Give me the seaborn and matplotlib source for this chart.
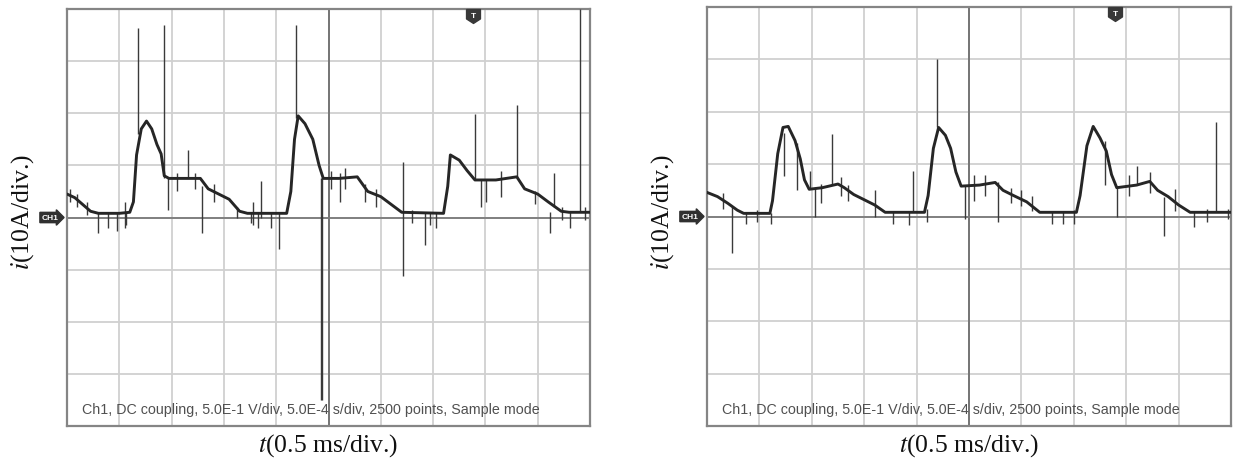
import numpy as np
import pandas as pd
import seaborn as sns
import matplotlib.pyplot as plt
import matplotlib.transforms as mtransforms

# trace envelope, in divisions (x: 0..10, y: -4..4, 0 = CH1 ground)
left_x = [0.0, 0.15, 0.3, 0.45, 0.6, 1.0, 1.2, 1.27, 1.33, 1.42, 1.52, 1.62, 1.72, 1.8, 1.86,
          1.95, 2.3, 2.55, 2.7, 2.9, 3.1, 3.3, 3.45, 4.2, 4.28, 4.35, 4.42, 4.55, 4.7, 4.82,
          4.9, 5.2, 5.55, 5.75, 6.0, 6.2, 6.4, 7.2, 7.28, 7.33, 7.5, 7.65, 7.8, 8.2, 8.6,
          8.75, 9.0, 9.2, 9.45, 9.6, 10.0]
left_y = [0.45, 0.38, 0.25, 0.12, 0.08, 0.08, 0.1, 0.3, 1.2, 1.7, 1.85, 1.7, 1.4, 1.22, 0.8,
          0.75, 0.75, 0.75, 0.55, 0.45, 0.35, 0.12, 0.08, 0.08, 0.5, 1.5, 1.95, 1.8, 1.5, 1.0,
          0.75, 0.75, 0.78, 0.5, 0.4, 0.25, 0.1, 0.08, 0.6, 1.2, 1.1, 0.9, 0.72, 0.72, 0.78,
          0.55, 0.45, 0.3, 0.12, 0.1, 0.1]

right_x = [0.0, 0.2, 0.4, 0.58, 0.7, 1.2, 1.25, 1.35, 1.45, 1.55, 1.68, 1.78, 1.86, 1.95,
           2.2, 2.5, 2.62, 2.8, 3.0, 3.2, 3.4, 4.15, 4.22, 4.32, 4.42, 4.55, 4.65, 4.75, 4.85,
           5.2, 5.5, 5.65, 5.85, 6.1, 6.35, 7.05, 7.12, 7.25, 7.37, 7.5, 7.62, 7.72, 7.82,
           8.2, 8.45, 8.6, 8.8, 9.0, 9.22, 10.0]
right_y = [0.46, 0.38, 0.25, 0.12, 0.06, 0.06, 0.3, 1.2, 1.7, 1.72, 1.45, 1.1, 0.7, 0.52,
           0.55, 0.62, 0.55, 0.42, 0.32, 0.22, 0.08, 0.08, 0.4, 1.3, 1.7, 1.55, 1.3, 0.85, 0.58,
           0.6, 0.65, 0.5, 0.4, 0.28, 0.08, 0.08, 0.4, 1.35, 1.72, 1.5, 1.25, 0.8, 0.55,
           0.6, 0.67, 0.5, 0.38, 0.22, 0.08, 0.08]

# glitches: position, low end, high end (divisions)
left_spike_x = [1.35, 1.85, 4.38, 9.81, 8.6, 7.81, 2.31, 6.43, 4.86, 4.88, 6.85, 4.05, 2.58,
                0.59, 0.96, 1.93, 3.71, 9.32, 9.24, 0.78, 3.65, 3.9, 7.05, 2.82, 5.22, 9.62,
                1.1, 3.55, 5.9, 8.3, 0.2, 0.38, 1.13, 2.45, 3.25, 3.52, 5.32, 5.05, 6.6,
                6.94, 7.92, 8.02, 9.47, 9.9, 2.1, 5.7, 8.95, 0.05]
left_spike_lo = [1.6, 0.75, 1.9, 0.1, 0.78, 0.72, 0.75, -1.12, -3.5, -3.5, -0.53, -0.6, -0.29,
                 -0.29, -0.25, 0.15, 0.0, 0.2, -0.29, -0.2, -0.2, -0.2, -0.2, 0.3, 0.3, -0.2,
                 -0.2, -0.15, 0.2, 0.4, 0.2, 0.05, -0.15, 0.55, 0.0, -0.1, 0.55, 0.55, -0.1,
                 -0.15, 0.2, 0.3, -0.05, -0.05, 0.5, 0.3, 0.25, 0.3]
left_spike_hi = [3.64, 3.7, 3.7, 4.0, 2.15, 1.98, 1.3, 1.07, 0.75, 0.75, 0.08, 0.08, 0.6,
                 0.1, 0.1, 0.75, 0.7, 0.86, 0.1, 0.1, 0.08, 0.08, 0.08, 0.65, 0.85, 0.1,
                 0.3, 0.3, 0.55, 0.9, 0.45, 0.3, 0.1, 0.85, 0.2, 0.1, 0.95, 0.9, 0.15,
                 0.1, 0.72, 0.72, 0.2, 0.2, 0.85, 0.65, 0.5, 0.55]

right_spike_x = [4.39, 2.38, 9.72, 3.93, 8.21, 1.46, 1.97, 0.47, 8.72, 7.82, 2.06, 5.55,
                 4.92, 3.86, 1.72, 9.3, 0.75, 1.22, 6.58, 6.8, 8.93, 2.18, 7.6, 5.1, 3.2,
                 0.3, 0.95, 2.7, 3.55, 4.2, 5.3, 6.0, 6.2, 7.0, 8.05, 8.45, 9.55, 9.95,
                 2.55, 5.8]
right_spike_lo = [1.7, 0.6, 0.08, 0.08, 0.6, 0.78, 0.52, -0.69, -0.37, 0.0, 0.0, -0.11,
                  -0.05, -0.17, 0.5, -0.2, -0.15, -0.15, -0.15, -0.15, 0.1, 0.25, 0.6, 0.3, 0.0,
                  0.15, -0.1, 0.3, -0.15, -0.1, 0.4, 0.2, 0.1, -0.15, 0.4, 0.45, -0.1, -0.05,
                  0.4, 0.25]
right_spike_hi = [3.0, 1.57, 1.81, 0.87, 0.97, 1.6, 0.87, 0.2, 0.38, 0.55, 0.55, 0.65,
                  0.6, 0.08, 1.4, 0.08, 0.06, 0.06, 0.08, 0.08, 0.52, 0.62, 1.45, 0.8, 0.5,
                  0.45, 0.12, 0.6, 0.1, 0.15, 0.8, 0.5, 0.4, 0.12, 0.8, 0.85, 0.15, 0.15,
                  0.75, 0.55]

info = "Ch1, DC coupling, 5.0E-1 V/div, 5.0E-4 s/div, 2500 points, Sample mode"
trig_pos = [7.77, 7.79]

sns.set_style("white")
plt.rcParams["font.family"] = ["Liberation Serif", "DejaVu Serif"]
plt.rcParams["mathtext.fontset"] = "stix"

fig = plt.figure(figsize=(12.33, 4.6), dpi=100)
ax_l = fig.add_axes([67 / 1233, 33 / 460, 523 / 1233, 417 / 460])
ax_r = fig.add_axes([707 / 1233, 33 / 460, 524 / 1233, 419 / 460])

panels = [
    (ax_l, left_x, left_y, left_spike_x, left_spike_lo, left_spike_hi, trig_pos[0]),
    (ax_r, right_x, right_y, right_spike_x, right_spike_lo, right_spike_hi, trig_pos[1]),
]

shield = [(-1, 1), (1, 1), (1, -0.35), (0, -1), (-1, -0.35), (-1, 1)]

for ax, tx, ty, sx, slo, shi, tpos in panels:
    ax.vlines(sx, slo, shi, color="#3a3a3a", lw=1.0, zorder=3)
    df = pd.DataFrame({"t": tx, "i": ty})
    sns.lineplot(data=df, x="t", y="i", ax=ax, color="#262626", lw=2.1,
                 sort=False, estimator=None, zorder=4)

    ax.set_xlim(0, 10)
    ax.set_ylim(-4, 4)
    ax.set_xticks(range(11))
    ax.set_yticks(range(-4, 5))
    ax.tick_params(length=0, labelbottom=False, labelleft=False)
    ax.grid(True, color="#d0d0d0", lw=1.3)
    ax.axvline(5, color="#6e6e6e", lw=1.3, zorder=1)
    ax.axhline(0, color="#7a7a7a", lw=1.3, zorder=1)
    for sp in ax.spines.values():
        sp.set_color("#858585")
        sp.set_linewidth(1.6)

    # axis titles drawn as figure text so they stay independent of tick settings
    bb = ax.get_position()
    fig.text(bb.x0 + bb.width / 2, (460 - 446) / 460, r"$\mathit{t}$(0.5 ms/div.)",
             fontsize=18.5, ha="center", va="center", color="#111111")
    fig.text(bb.x0 - 44 / 1233, (460 - 212) / 460, r"$\mathit{i}$(10A/div.)",
             fontsize=18.5, ha="center", va="center", rotation=90, color="#111111")
    ax.set_xlabel("")
    ax.set_ylabel("")

    ax.text(15 / 523, 17 / 417, info, transform=ax.transAxes, fontsize=10.3,
            family="Liberation Sans", color="#505050", va="center", ha="left")

    # CH1 ground marker
    tr = mtransforms.blended_transform_factory(ax.transAxes, ax.transData)
    ax.text(-17 / 523, 0, "CH1", transform=tr, fontsize=6, fontweight="bold",
            family="Liberation Sans", color="white", ha="center", va="center",
            bbox=dict(boxstyle="rarrow,pad=0.2", fc="#303030", ec="#303030"),
            clip_on=False, zorder=6)

    # trigger marker
    tr2 = mtransforms.blended_transform_factory(ax.transData, ax.transAxes)
    ty_pos = 1 - 7 / 417
    ax.plot([tpos], [ty_pos], transform=tr2, marker=shield, ms=10, color="#383838",
            clip_on=False, zorder=6)
    ax.text(tpos, ty_pos + 1 / 417, "T", transform=tr2, fontsize=6, fontweight="bold",
            family="Liberation Sans", color="white", ha="center", va="center", zorder=7)

fig.savefig("out.png", dpi=100)
